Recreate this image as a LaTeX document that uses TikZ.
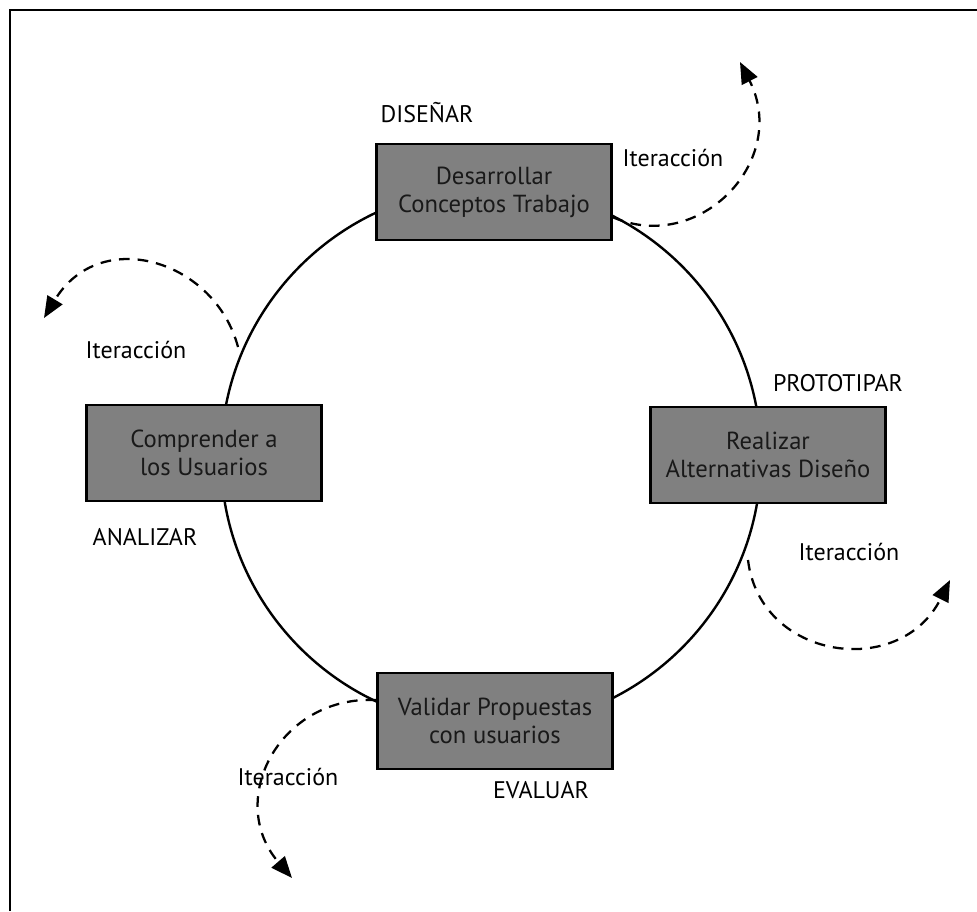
\documentclass[tikz,border=0pt]{standalone}
\usepackage{fontspec}
\setmainfont{PT Sans}
\usetikzlibrary{arrows.meta}

\begin{document}
\begin{tikzpicture}[x=0.75pt,y=-0.75pt]
		\tikzset{fase/.style = {shape=rectangle, draw, line width=2.2pt, fill=gray, text=black!90, minimum width=176pt, minimum height=72pt, align=center, inner sep=0pt, font=\fontsize{18.5}{21}\selectfont}}
		\tikzset{etiqueta/.style = {font=\fontsize{18}{21}\selectfont, inner sep=0pt}}
		\tikzset{iter/.style = {dashed, dash pattern=on 8pt off 6pt, line width=1.7pt, -{Triangle[length=16pt,width=13pt]}}}

		\useasboundingbox (0,0) rectangle (977,911);
		\draw[line width=1.5pt] (9.5,911) -- (9.5,9.5) -- (977,9.5);

		\coordinate (C) at (491,457);
		\draw[line width=1.8pt] (C) circle[radius=202.5pt];

		\node[fase] (F_1) at (494,192) {Desarrollar\\Conceptos Trabajo};
		\node[fase] (F_2) at (204,453) {Comprender a\\los Usuarios};
		\node[fase] (F_3) at (768,455) {Realizar\\Alternativas Diseño};
		\node[fase] (F_4) at (495,721) {Validar Propuestas\\con usuarios};

		\node[etiqueta] (L_1) at (427,113) {DISEÑAR};
		\node[etiqueta] (L_2) at (145,537) {ANALIZAR};
		\node[etiqueta] (L_3) at (838,383) {PROTOTIPAR};
		\node[etiqueta] (L_4) at (541,790) {EVALUAR};

		\node[etiqueta] (I_1) at (673,158) {Iteracción};
		\node[etiqueta] (I_2) at (136,350) {Iteracción};
		\node[etiqueta] (I_3) at (849,552) {Iteracción};
		\node[etiqueta] (I_4) at (288,777) {Iteracción};

		\coordinate (S_2) at (238,347);
		\coordinate (S_3) at (748,560);
		\coordinate (T_1) at (740,62);
		\coordinate (T_2) at (44,318);
		\coordinate (T_3) at (950,580);
		\coordinate (T_4) at (292,878);

		\draw[iter] (F_1.-12.5) .. controls (700,255) and (790,160) .. (T_1);
		\draw[iter] (S_2) .. controls (215,260) and (100,225) .. (T_2);
		\draw[iter] (S_3) .. controls (760,660) and (900,680) .. (T_3);
		\draw[iter] (F_4.170) .. controls (280,695) and (225,800) .. (T_4);

	\end{tikzpicture}
\end{document}
